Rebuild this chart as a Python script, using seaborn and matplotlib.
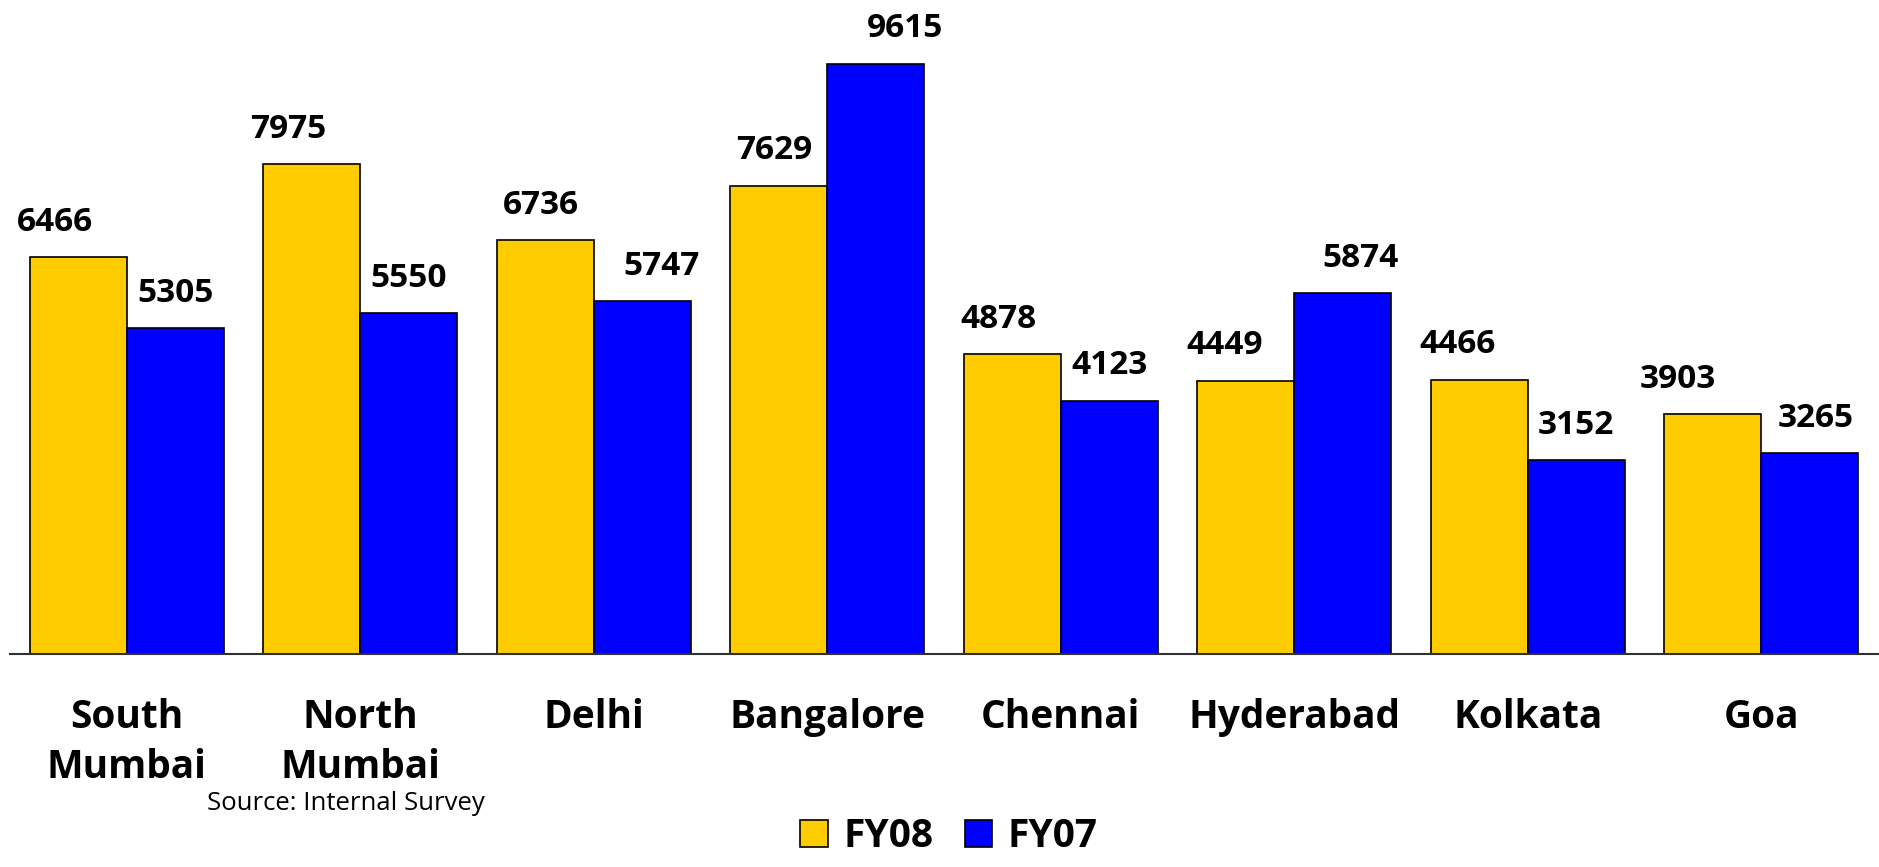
import numpy as np
import pandas as pd
import matplotlib
matplotlib.use('Agg')
import matplotlib.pyplot as plt
from matplotlib.patches import Patch
import seaborn as sns

cities = ['South\nMumbai', 'North\nMumbai', 'Delhi', 'Bangalore', 'Chennai',
          'Hyderabad', 'Kolkata', 'Goa']
fy08 = [6466, 7975, 6736, 7629, 4878, 4449, 4466, 3903]
fy07 = [5305, 5550, 5747, 9615, 4123, 5874, 3152, 3265]
series = ['FY08', 'FY07']
colors = {'FY08': '#FFCC00', 'FY07': '#0000FF'}

# the value labels were nudged by hand in the original (points)
dx08 = [-17, -17, -3, -3, -10, -15, -16, -25]
dx07 = [0, 0, 14, 21, 0, 13, 0, 4]

df = pd.DataFrame({
    'city': cities * 2,
    'series': ['FY08'] * len(cities) + ['FY07'] * len(cities),
    'value': fy08 + fy07,
})

sns.set_style('white')
plt.rcParams['font.family'] = ['Open Sans', 'DejaVu Sans']
plt.rcParams['text.color'] = 'black'

fig, ax = plt.subplots(figsize=(18.79, 8.67), dpi=100)
fig.subplots_adjust(left=0.0053, right=0.9995, bottom=0.2457, top=1.0)

sns.barplot(data=df, x='city', y='value', hue='series', hue_order=series,
            palette=colors, width=0.83, edgecolor='black', linewidth=1.2,
            saturation=1, ax=ax, legend=False)

for cont, vals, dxs in zip(ax.containers, [fy08, fy07], [dx08, dx07]):
    for bar, v, dx in zip(cont, vals, dxs):
        ax.annotate(f'{v}', xy=(bar.get_x() + bar.get_width() / 2, bar.get_height()),
                    xytext=(dx, 19), textcoords='offset points', color='black',
                    ha='center', va='baseline', fontsize=24, fontweight='bold')

ax.set_ylim(0, 10650)
ax.set_xlim(-0.5, len(cities) - 0.5)
ax.set_xlabel('')
ax.set_ylabel('')
ax.set_yticks([])
for s in ['left', 'right', 'top']:
    ax.spines[s].set_visible(False)
ax.spines['bottom'].set_color('#303030')
ax.spines['bottom'].set_linewidth(1.5)

ax.set_xticks(range(len(cities)))
ax.set_xticklabels(cities, fontsize=28, fontweight='bold', linespacing=1.35)
ax.set_xticks(np.arange(-0.5, len(cities), 1), minor=True)
ax.tick_params(axis='x', which='major', length=0, pad=32, labelcolor='black')
ax.tick_params(axis='x', which='minor', length=9.5, width=1.5, color='#303030',
               direction='out')

fig.text(207 / 1879, 57 / 867, 'Source: Internal Survey', fontsize=18.5,
         va='baseline', ha='left', color='black')

handles = [Patch(facecolor=colors[s], edgecolor='black', linewidth=1.2) for s in series]
fig.legend(handles, series, loc='lower center', bbox_to_anchor=(0.505, -0.028),
           ncol=2, frameon=False, prop={'size': 28, 'weight': 'bold'},
           handlelength=0.7, handleheight=0.7, handletextpad=0.4,
           columnspacing=0.8, labelcolor='black')

fig.savefig('out.png', dpi=100)
